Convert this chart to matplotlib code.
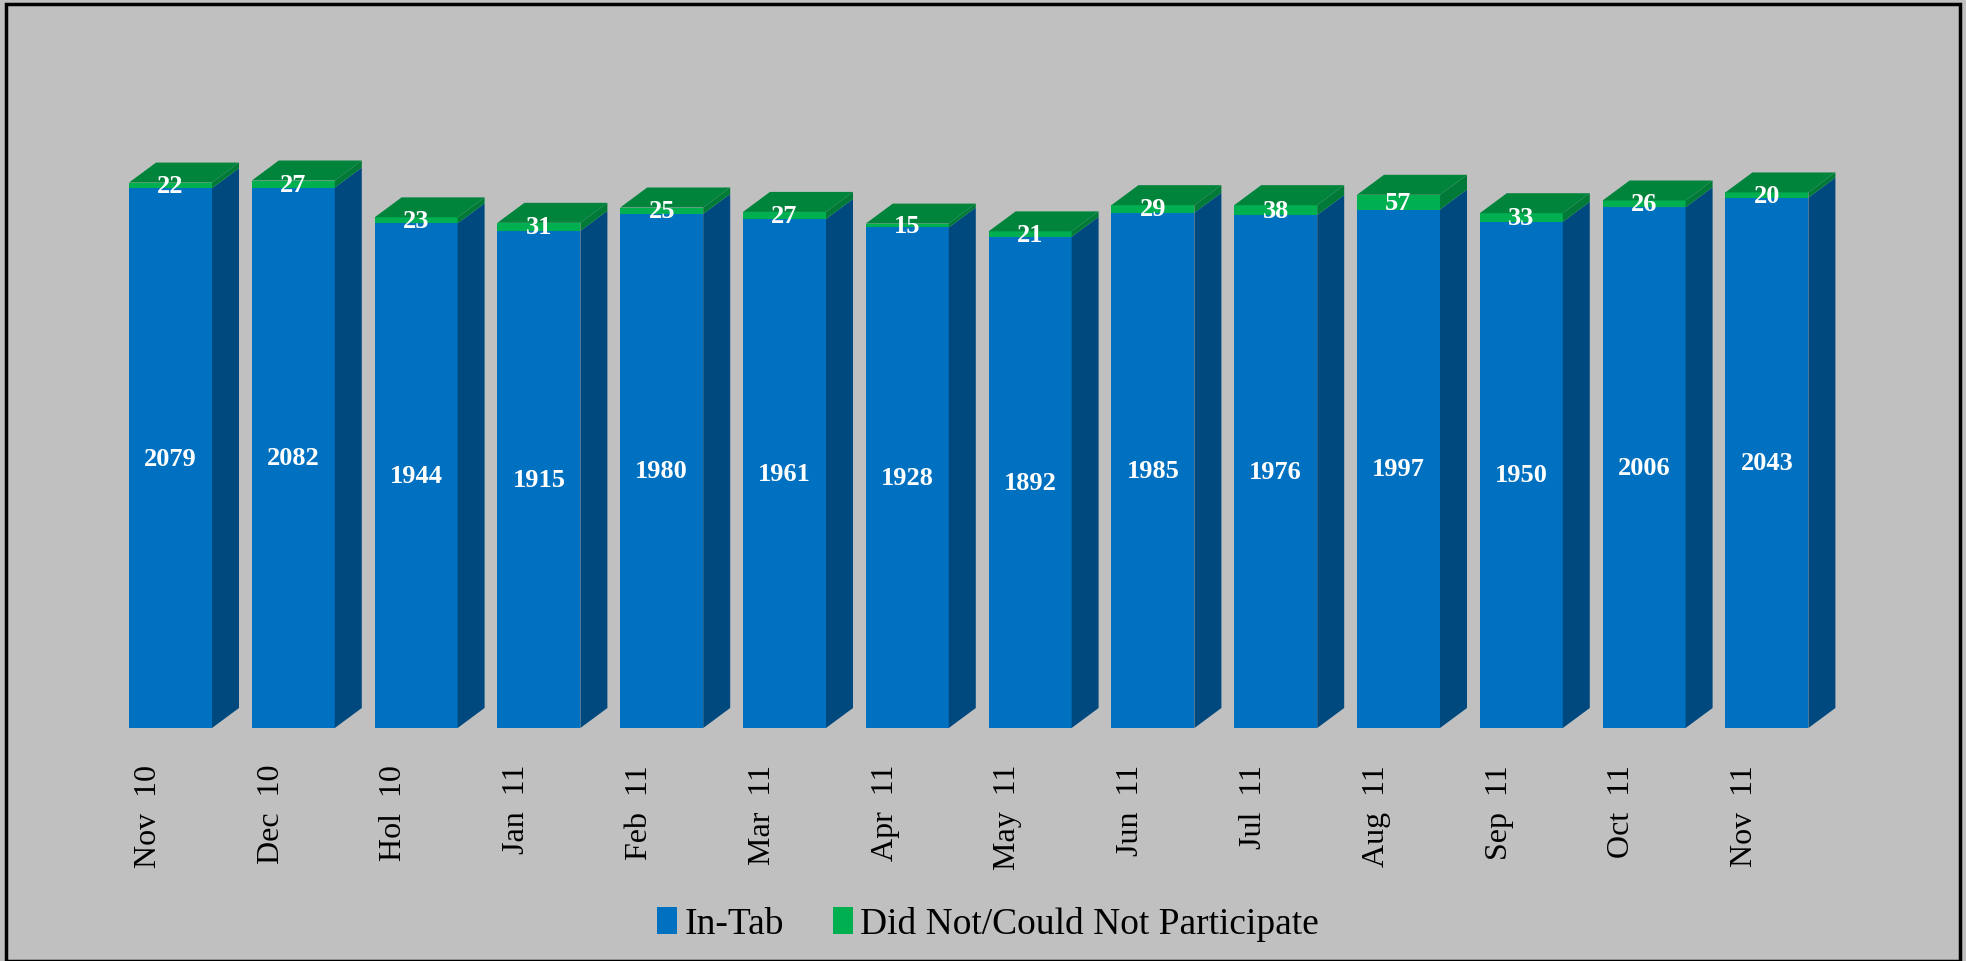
import matplotlib
matplotlib.use("Agg")
import matplotlib.pyplot as plt
from matplotlib.patches import Polygon, Rectangle, Patch
from matplotlib.transforms import blended_transform_factory

categories = ["Nov  10", "Dec  10", "Hol  10", "Jan  11", "Feb  11", "Mar  11", "Apr  11",
              "May  11", "Jun  11", "Jul  11", "Aug  11", "Sep  11", "Oct  11", "Nov  11"]
in_tab = [2079, 2082, 1944, 1915, 1980, 1961, 1928, 1892, 1985, 1976, 1997, 1950, 2006, 2043]
did_not = [22, 27, 23, 31, 25, 27, 15, 21, 29, 38, 57, 33, 26, 20]
series_names = ["In-Tab", "Did Not/Could Not Participate"]

BG = "#C0C0C0"
BLUE = "#0070C0"
BLUE_SIDE = "#00497F"
GREEN = "#00B050"
GREEN_TOP = "#00843C"
GREEN_SIDE = "#007A36"

plt.rcParams['font.family'] = ['Liberation Serif', 'DejaVu Serif']

W, H = 1966, 962
fig = plt.figure(figsize=(W / 100, H / 100), dpi=100, facecolor=BG)

# axes geometry (pixels)
pitch = 122.8
x0c = 170.5
ax_left = x0c - pitch / 2
ax_w = pitch * 14
ymax = 2400
px_per_unit = 0.2596
ax_bottom = H - 729
ax_h = ymax * px_per_unit
ax = fig.add_axes([ax_left / W, ax_bottom / H, ax_w / W, ax_h / H])
ax.set_xlim(-0.5, 13.5)
ax.set_ylim(0, ymax)
ax.axis('off')
ax.patch.set_alpha(0)

bw = 83 / pitch
ddx = 27 / pitch
ddy = 20 / px_per_unit

xs = list(range(len(categories)))
ax.bar(xs, in_tab, width=bw, color=BLUE, zorder=2)
ax.bar(xs, did_not, width=bw, bottom=in_tab, color=GREEN, zorder=2)

for i, (a, b) in enumerate(zip(in_tab, did_not)):
    r = i + bw / 2
    l = i - bw / 2
    top = a + b
    ax.add_patch(Polygon([(r, 0), (r + ddx, ddy), (r + ddx, a + ddy), (r, a)],
                         closed=True, facecolor=BLUE_SIDE, edgecolor='none', zorder=2, clip_on=False))
    ax.add_patch(Polygon([(r, a), (r + ddx, a + ddy), (r + ddx, top + ddy), (r, top)],
                         closed=True, facecolor=GREEN_SIDE, edgecolor='none', zorder=2, clip_on=False))
    ax.add_patch(Polygon([(l, top), (l + ddx, top + ddy), (r + ddx, top + ddy), (r, top)],
                         closed=True, facecolor=GREEN_TOP, edgecolor='none', zorder=2, clip_on=False))
    ax.text(i, a / 2, str(a), ha='center', va='center', color='white',
            fontsize=19, fontweight='bold', zorder=5)
    ax.text(i, a + b / 2, str(b), ha='center', va='center', color='white',
            fontsize=19, fontweight='bold', zorder=5)

trans = blended_transform_factory(ax.transData, fig.transFigure)
for i, lab in enumerate(categories):
    ax.text(i - 0.18, (H - 765) / H, lab, rotation=90, ha='center', va='top',
            fontsize=23, color='black', transform=trans)

handles = [Patch(facecolor=BLUE, edgecolor='none'), Patch(facecolor=GREEN, edgecolor='none')]
fig.legend(handles, series_names, loc='center', bbox_to_anchor=(988 / W, 1 - 925 / H),
           ncol=2, frameon=False, fontsize=27, handlelength=0.53, handleheight=0.72,
           handletextpad=0.2, columnspacing=1.3, borderpad=0.1)

fig.patches.append(Rectangle((6 / W, 0), (1960 - 6) / W, (H - 5) / H, transform=fig.transFigure,
                             fill=False, edgecolor='black', linewidth=2.5))

fig.savefig("out.png", dpi=100, facecolor=BG)
